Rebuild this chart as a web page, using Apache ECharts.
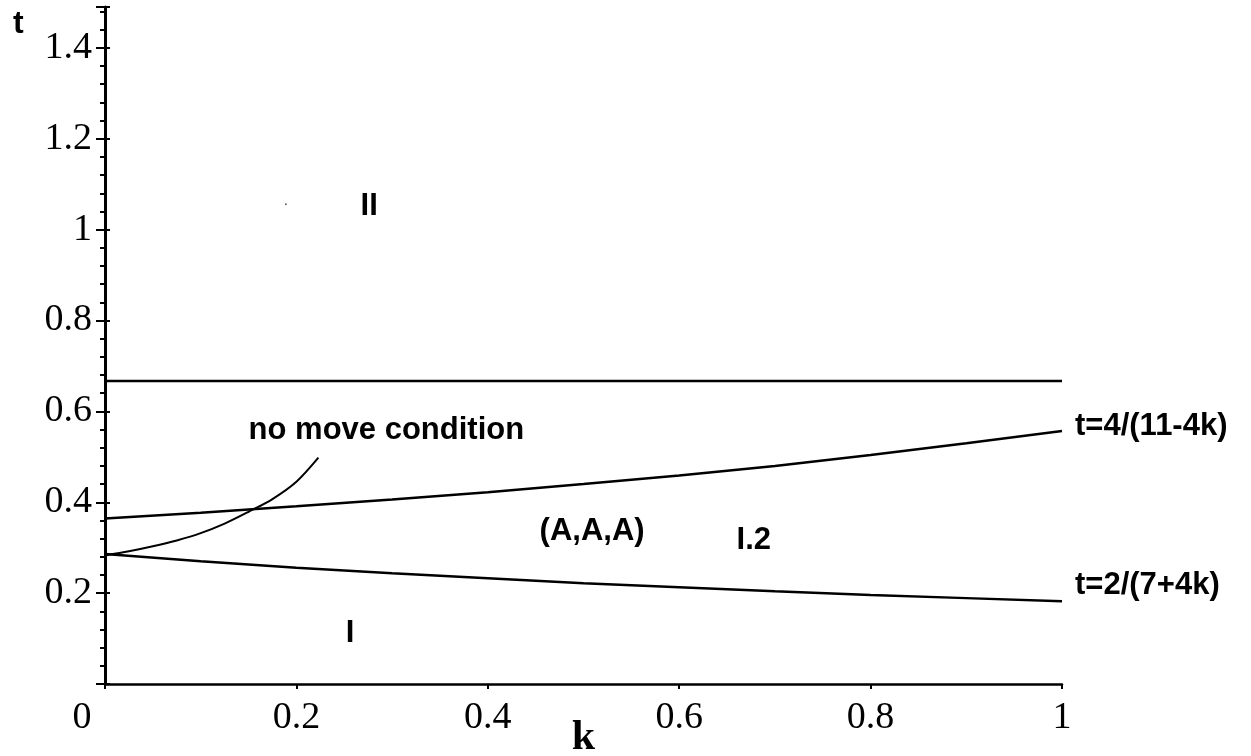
<!DOCTYPE html>
<html>
<head>
<meta charset="utf-8">
<script src="https://cdn.jsdelivr.net/npm/echarts@6/dist/echarts.min.js"></script>
<style>
  html, body { margin: 0; padding: 0; background: #fff; }
  #chart { width: 1251px; height: 756px; }
</style>
</head>
<body>
<div id="chart"></div>
<script>
// Parameter k along the horizontal axis
const kSamples = [0, 0.1, 0.2, 0.3, 0.4, 0.5, 0.6, 0.7, 0.8, 0.9, 1];
// Upper boundary t = 4/(11-4k)
const upperT = [0.364, 0.377, 0.391, 0.406, 0.422, 0.440, 0.459, 0.480, 0.504, 0.530, 0.557];
// Lower boundary t = 2/(7+4k)
const lowerT = [0.286, 0.270, 0.256, 0.244, 0.233, 0.222, 0.213, 0.204, 0.196, 0.189, 0.182];
// Horizontal boundary between regions I and II
const flatK = [0, 1];
const flatT = [0.667, 0.667];
// "no move condition" curve
const noMoveK = [0, 0.025, 0.05, 0.075, 0.1, 0.125, 0.15, 0.175, 0.2, 0.223];
const noMoveT = [0.283, 0.292, 0.303, 0.316, 0.332, 0.353, 0.379, 0.407, 0.445, 0.498];
// Region annotations
const noteText = ['II', 'no move condition', '(A,A,A)', 'I.2', 'I'];
const noteK = [0.276, 0.294, 0.509, 0.678, 0.256];
const noteT = [1.052, 0.559, 0.335, 0.315, 0.111];
// Isolated point in region II
const dotK = [0.189];
const dotT = [1.056];
// Axis settings
const xMin = 0, xMax = 1, xStep = 0.2;
const yMin = 0, yMax = 1.49, yStep = 0.2;

const zip = (a, b) => a.map((v, i) => [v, b[i]]);

const tickFont = 'Liberation Serif, Times New Roman, serif';
const noteFont = 'Liberation Sans, Arial, sans-serif';

const chart = echarts.init(document.getElementById('chart'), null, { renderer: 'canvas' });

const lineSeries = (name, data, width, endLabelOffset) => ({
  name: name,
  type: 'line',
  data: data,
  showSymbol: false,
  symbol: 'none',
  lineStyle: { color: '#000', width: width, opacity: 1 },
  silent: true,
  animation: false,
  endLabel: endLabelOffset ? {
    show: true,
    formatter: '{a}',
    color: '#000',
    opacity: 1,
    fontFamily: noteFont,
    fontWeight: 'bold',
    fontSize: 31,
    distance: 5,
    offset: endLabelOffset
  } : { show: false }
});

const option = {
  backgroundColor: '#fff',
  animation: false,
  grid: {
    left: 105, right: 189, top: 7, bottom: 72,
    containLabel: false,
    outerBoundsMode: 'none'
  },
  xAxis: {
    type: 'value',
    min: xMin, max: xMax, interval: xStep,
    name: 'k',
    nameLocation: 'middle',
    nameGap: 33,
    nameMoveOverlap: false,
    nameTextStyle: { fontFamily: tickFont, fontWeight: 'bold', fontSize: 42, color: '#000', verticalAlign: 'top' },
    axisLine: { show: true, onZero: false, lineStyle: { color: '#000', width: 2.5 } },
    axisTick: { show: true, inside: false, length: 5, lineStyle: { color: '#000', width: 2 } },
    splitLine: { show: false },
    axisLabel: {
      color: '#000', fontFamily: tickFont, fontSize: 38, margin: 15,
      formatter: v => v === 0 ? '{z|0}' : String(v),
      rich: { z: { fontFamily: tickFont, fontSize: 38, color: '#000', padding: [0, 46, 0, 0] } }
    }
  },
  yAxis: [{
    type: 'value',
    min: yMin, max: yMax, interval: yStep,
    axisLine: { show: true, onZero: false, lineStyle: { color: '#000', width: 3 } },
    axisTick: { show: true, inside: false, length: 9, lineStyle: { color: '#000', width: 2 } },
    minorTick: { show: true, splitNumber: 5, length: 5, lineStyle: { color: '#000', width: 2 } },
    splitLine: { show: false },
    minorSplitLine: { show: false },
    axisLabel: {
      color: '#000', fontFamily: tickFont, fontSize: 38, margin: 13,
      showMinLabel: false, showMaxLabel: false
    }
  }, {
    type: 'value',
    min: yMin, max: yMax, interval: yStep,
    position: 'left',
    axisLine: { show: false },
    axisTick: { show: true, inside: true, length: 5, lineStyle: { color: '#000', width: 2 } },
    axisLabel: { show: false },
    splitLine: { show: false }
  }],
  graphic: [{
    type: 'text',
    left: 13, top: 8,
    style: { text: 't', fontFamily: noteFont, fontWeight: 'bold', fontSize: 32, fill: '#000' }
  }],
  series: [
    lineSeries('flat', zip(flatK, flatT), 2.5, null),
    lineSeries('t=4/(11-4k)', zip(kSamples, upperT), 2.5, [8, -4]),
    lineSeries('t=2/(7+4k)', zip(kSamples, lowerT), 2.5, [8, -16]),
    Object.assign(lineSeries('noMove', zip(noMoveK, noMoveT), 2, null), { smooth: 0.3 }),
    {
      type: 'scatter',
      data: noteText.map((t, i) => ({ name: t, value: [noteK[i], noteT[i]] })),
      symbolSize: 0,
      silent: true,
      itemStyle: { opacity: 1 },
      label: {
        show: true, position: [0, 0], align: 'center', verticalAlign: 'middle',
        formatter: '{b}', opacity: 1,
        color: '#000', fontFamily: noteFont, fontWeight: 'bold', fontSize: 31
      }
    },
    {
      type: 'scatter',
      data: zip(dotK, dotT),
      symbolSize: 2,
      silent: true,
      itemStyle: { color: '#666', opacity: 1 }
    }
  ]
};

chart.setOption(option);
</script>
</body>
</html>
